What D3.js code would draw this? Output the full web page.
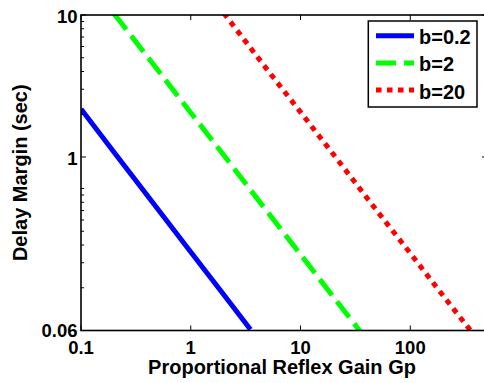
<!DOCTYPE html>
<html><head><meta charset="utf-8">
<script src="https://cdn.jsdelivr.net/npm/d3@7"></script>
<style>body{margin:0;background:#fff}svg{display:block}text{font-family:"Liberation Sans",Arial,sans-serif;font-weight:bold;fill:#000}</style>
</head><body><svg id="c" width="484" height="383"></svg>
<script>
// Data
const gpBlue  = [0.1, 0.2, 0.5, 1, 2, 3.5];
const dmBlue  = [2.18, 1.08, 0.43, 0.214, 0.107, 0.061];
const gpGreen = [0.2, 0.5, 1, 2, 5, 10, 20, 35];
const dmGreen = [10.2, 4.1, 2.05, 1.03, 0.41, 0.206, 0.103, 0.059];
const gpRed   = [2, 5, 10, 20, 50, 100, 200, 360];
const dmRed   = [10.3, 4.1, 2.07, 1.04, 0.415, 0.21, 0.105, 0.059];
const seriesNames = ["b=0.2", "b=2", "b=20"];
const xTicks = [0.1, 1, 10, 100];
const xTickLabels = ["0.1", "1", "10", "100"];
const yTicks = [0.06, 1, 10];
const yTickLabels = ["0.06", "1", "10"];
const yMinor = [0.12,0.18,0.24,0.30,0.36,0.42,0.48,0.54,0.6,2,3,4,5,6,7,8,9];
const xLabel = "Proportional Reflex Gain Gp";
const yLabel = "Delay Margin (sec)";

const L = 81, R = 487, T = 15, B = 330.5;
const svg = d3.select("#c");
const x = d3.scaleLog().domain([0.1, 500]).range([L, R]);
const y = d3.scaleLog().domain([0.06, 10]).range([B, T]);

svg.append("defs").append("clipPath").attr("id","clip")
  .append("rect").attr("x",L).attr("y",T).attr("width",R-L).attr("height",B-T);

const series = [
  {gp: gpBlue, dm: dmBlue, color: "#0000ff", dash: null},
  {gp: gpGreen, dm: dmGreen, color: "#00ff00", dash: "20,8"},
  {gp: gpRed, dm: dmRed, color: "#ff0000", dash: "5.5,5.5"}
];
const line = d3.line().x(d => x(d[0])).y(d => y(d[1]));
const g = svg.append("g").attr("clip-path","url(#clip)");
series.forEach(s => {
  g.append("path").datum(d3.zip(s.gp, s.dm))
    .attr("d", line).attr("fill","none").attr("stroke", s.color)
    .attr("stroke-width", 5).attr("stroke-dasharray", s.dash);
});

// axes (ticks inward, mirrored)
const tk = 5, tkm = 3;
const ax = svg.append("g").attr("stroke","#000").attr("stroke-width",1);
xTicks.forEach(v => {
  ax.append("line").attr("x1",x(v)).attr("x2",x(v)).attr("y1",B).attr("y2",B-tk);
  ax.append("line").attr("x1",x(v)).attr("x2",x(v)).attr("y1",T).attr("y2",T+tk);
});
yTicks.forEach(v => {
  ax.append("line").attr("x1",L).attr("x2",L+tk).attr("y1",y(v)).attr("y2",y(v));
  ax.append("line").attr("x1",R).attr("x2",R-tk).attr("y1",y(v)).attr("y2",y(v));
});
yMinor.forEach(v => {
  ax.append("line").attr("x1",L).attr("x2",L+tkm).attr("y1",y(v)).attr("y2",y(v));
  ax.append("line").attr("x1",R).attr("x2",R-tkm).attr("y1",y(v)).attr("y2",y(v));
});
svg.append("rect").attr("x",L).attr("y",T).attr("width",R-L).attr("height",B-T)
  .attr("fill","none").attr("stroke","#000").attr("stroke-width",1.6);

xTicks.forEach((v,i) => {
  svg.append("text").attr("x",x(v)).attr("y",354).attr("text-anchor","middle")
    .style("font-size","18.5px").text(xTickLabels[i]);
});
yTicks.forEach((v,i) => {
  svg.append("text").attr("x",77.5).attr("y",Math.min(y(v)+8, 337)).attr("text-anchor","end")
    .style("font-size","18.5px").text(yTickLabels[i]);
});
svg.append("text").attr("x",(L+R)/2 - 2).attr("y",374.3).attr("text-anchor","middle")
  .style("font-size","20px").text(xLabel);
svg.append("text").attr("transform",`translate(27,${(T+B)/2}) rotate(-90)`)
  .attr("text-anchor","middle").style("font-size","20px").text(yLabel);

// legend
const lg = svg.append("g");
lg.append("rect").attr("x",368.3).attr("y",21).attr("width",108.7).attr("height",86)
  .attr("fill","#fff").attr("stroke","#000").attr("stroke-width",1.5);
series.forEach((s,i) => {
  const yy = 35.7 + i*27.2;
  lg.append("line").attr("x1",376).attr("x2",414).attr("y1",yy).attr("y2",yy)
    .attr("stroke",s.color).attr("stroke-width",5).attr("stroke-dasharray",s.dash);
  lg.append("text").attr("x",419).attr("y",yy+8.5).style("font-size","20px").text(seriesNames[i]);
});
</script></body></html>
